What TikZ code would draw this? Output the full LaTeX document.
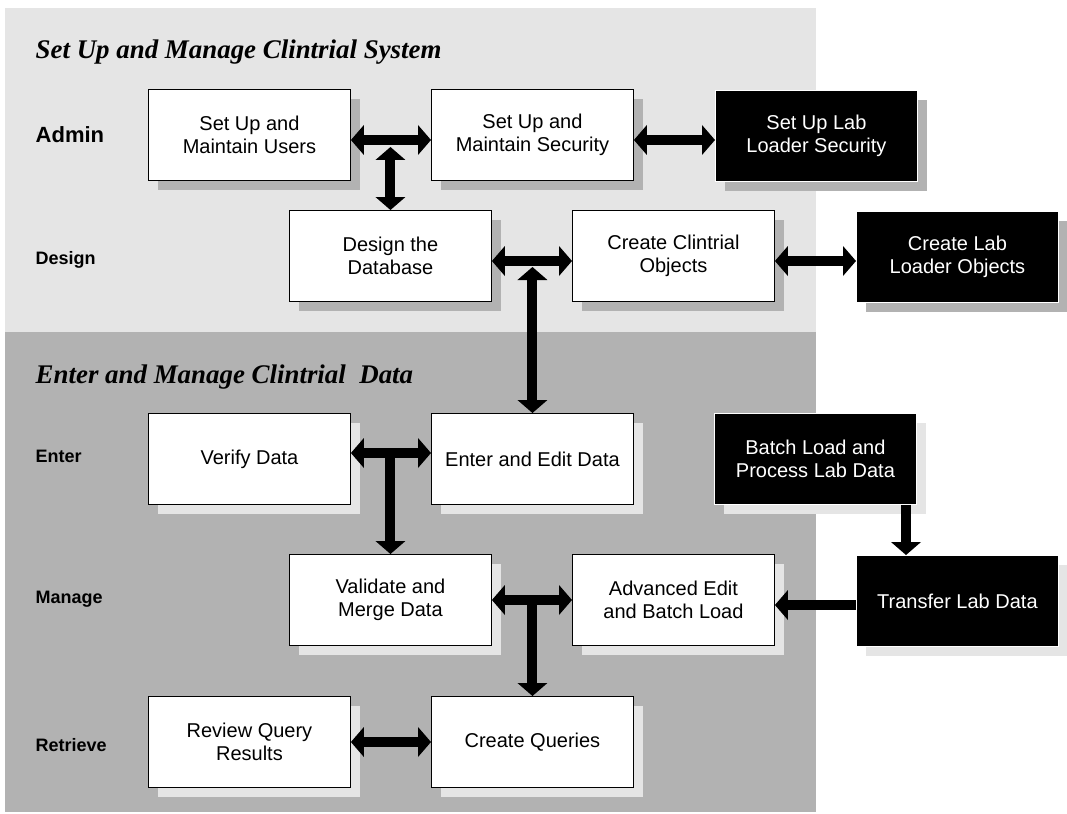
\documentclass[tikz,border=0pt]{standalone}
\usepackage{fontspec}
\setmainfont{Liberation Serif}
\setsansfont{Liberation Sans}
\usetikzlibrary{arrows.meta,shadows}

\definecolor{lightbg}{HTML}{E5E5E5}
\definecolor{darkbg}{HTML}{B2B2B2}

\tikzset{
  Blk/.tip={Triangle[width=30pt,length=13pt,line width=0pt]},
  box/.style={draw=black, line width=0.9pt, fill=white, text=black,
    minimum width=202pt, minimum height=91pt, inner sep=0pt,
    anchor=north west, align=center,
    font=\sffamily\fontsize{20}{23.4}\selectfont},
  onlight/.style={general shadow={fill=darkbg, shadow xshift=10pt, shadow yshift=-10pt}},
  ondark/.style={general shadow={fill=lightbg, shadow xshift=10pt, shadow yshift=-10pt}},
  blackbox/.style={box, fill=black, draw=white, text=white},
  rowlabel/.style={anchor=base west, inner sep=0pt,
    font=\sffamily\bfseries\fontsize{18}{21}\selectfont},
  title/.style={anchor=base west, inner sep=0pt,
    font=\rmfamily\bfseries\itshape\fontsize{26.9}{30}\selectfont},
  dbl/.style={line width=10pt, Blk-Blk},
  sgl/.style={line width=10pt, -Blk},
}

\begin{document}
\begin{tikzpicture}[x=1pt, y=-1pt]
  \useasboundingbox (0,0) rectangle (1067,813);

  % two swim bands
  \fill[lightbg] (5,8) rectangle (816,332);
  \fill[darkbg] (5,332) rectangle (816,812);

  % band titles
  \node[title] (t1) at (35.5,59) {Set Up and Manage Clintrial System};
  \node[title] (t2) at (35.5,383) {Enter and Manage Clintrial\ \ Data};

  % row labels
  \node[rowlabel, font=\sffamily\bfseries\fontsize{22}{26}\selectfont] (ladmin) at (35.5,143) {Admin};
  \node[rowlabel] (ldesign) at (35.5,264) {Design};
  \node[rowlabel] (lenter) at (35.5,462) {Enter};
  \node[rowlabel] (lmanage) at (35.5,603) {Manage};
  \node[rowlabel] (lretrieve) at (35.5,751) {Retrieve};

  % system set-up boxes
  \node[box, onlight] (users) at (148,89) {Set Up and\\Maintain Users};
  \node[box, onlight] (sec) at (431,89) {Set Up and\\Maintain Security};
  \node[blackbox, onlight] (labsec) at (715,90) {Set Up Lab\\Loader Security};
  \node[box, onlight] (design) at (289,210) {Design the\\Database};
  \node[box, onlight] (clobj) at (572,210) {Create Clintrial\\Objects};
  \node[blackbox, onlight] (labobj) at (856,211) {Create Lab\\Loader Objects};

  % data boxes
  \node[box, ondark] (verify) at (148,413) {Verify Data};
  \node[box, ondark] (enter) at (431,413) {Enter and Edit Data};
  \node[blackbox, ondark] (batch) at (714,413) {Batch Load and\\Process Lab Data};
  \node[box, ondark] (validate) at (289,554) {Validate and\\Merge Data};
  \node[box, ondark] (adv) at (572,554) {Advanced Edit\\and Batch Load};
  \node[blackbox, ondark] (transfer) at (856,555) {Transfer Lab Data};
  \node[box, ondark] (review) at (148,696) {Review Query\\Results};
  \node[box, ondark] (queries) at (431,696) {Create Queries};

  % junction points on horizontal shafts
  \coordinate (j1) at (design.north |- 0,147);
  \coordinate (j2) at (enter.north |- 0,267);
  \coordinate (j3) at (validate.north |- 0,453);
  \coordinate (j4) at (queries.north |- 0,600);

  % connectors
  \draw[dbl] (users.east |- 0,140) -- (sec.west |- 0,140);
  \draw[dbl] (j1) -- (design.north);
  \draw[dbl] (sec.east |- 0,140) -- (labsec.west |- 0,140);
  \draw[dbl] (design.east |- 0,261) -- (clobj.west |- 0,261);
  \draw[dbl] (j2) -- (enter.north);
  \draw[dbl] (clobj.east |- 0,261) -- (labobj.west |- 0,261);
  \draw[dbl] (verify.east |- 0,453) -- (enter.west |- 0,453);
  \draw[sgl] (j3) -- (validate.north);
  \draw[dbl] (validate.east |- 0,600) -- (adv.west |- 0,600);
  \draw[sgl] (j4) -- (queries.north);
  \draw[dbl] (review.east |- 0,742) -- (queries.west |- 0,742);
  \draw[sgl] (batch.south -| 906,0) -- (transfer.north -| 906,0);
  \draw[sgl] (transfer.west |- 0,605) -- (adv.east |- 0,605);
\end{tikzpicture}
\end{document}
